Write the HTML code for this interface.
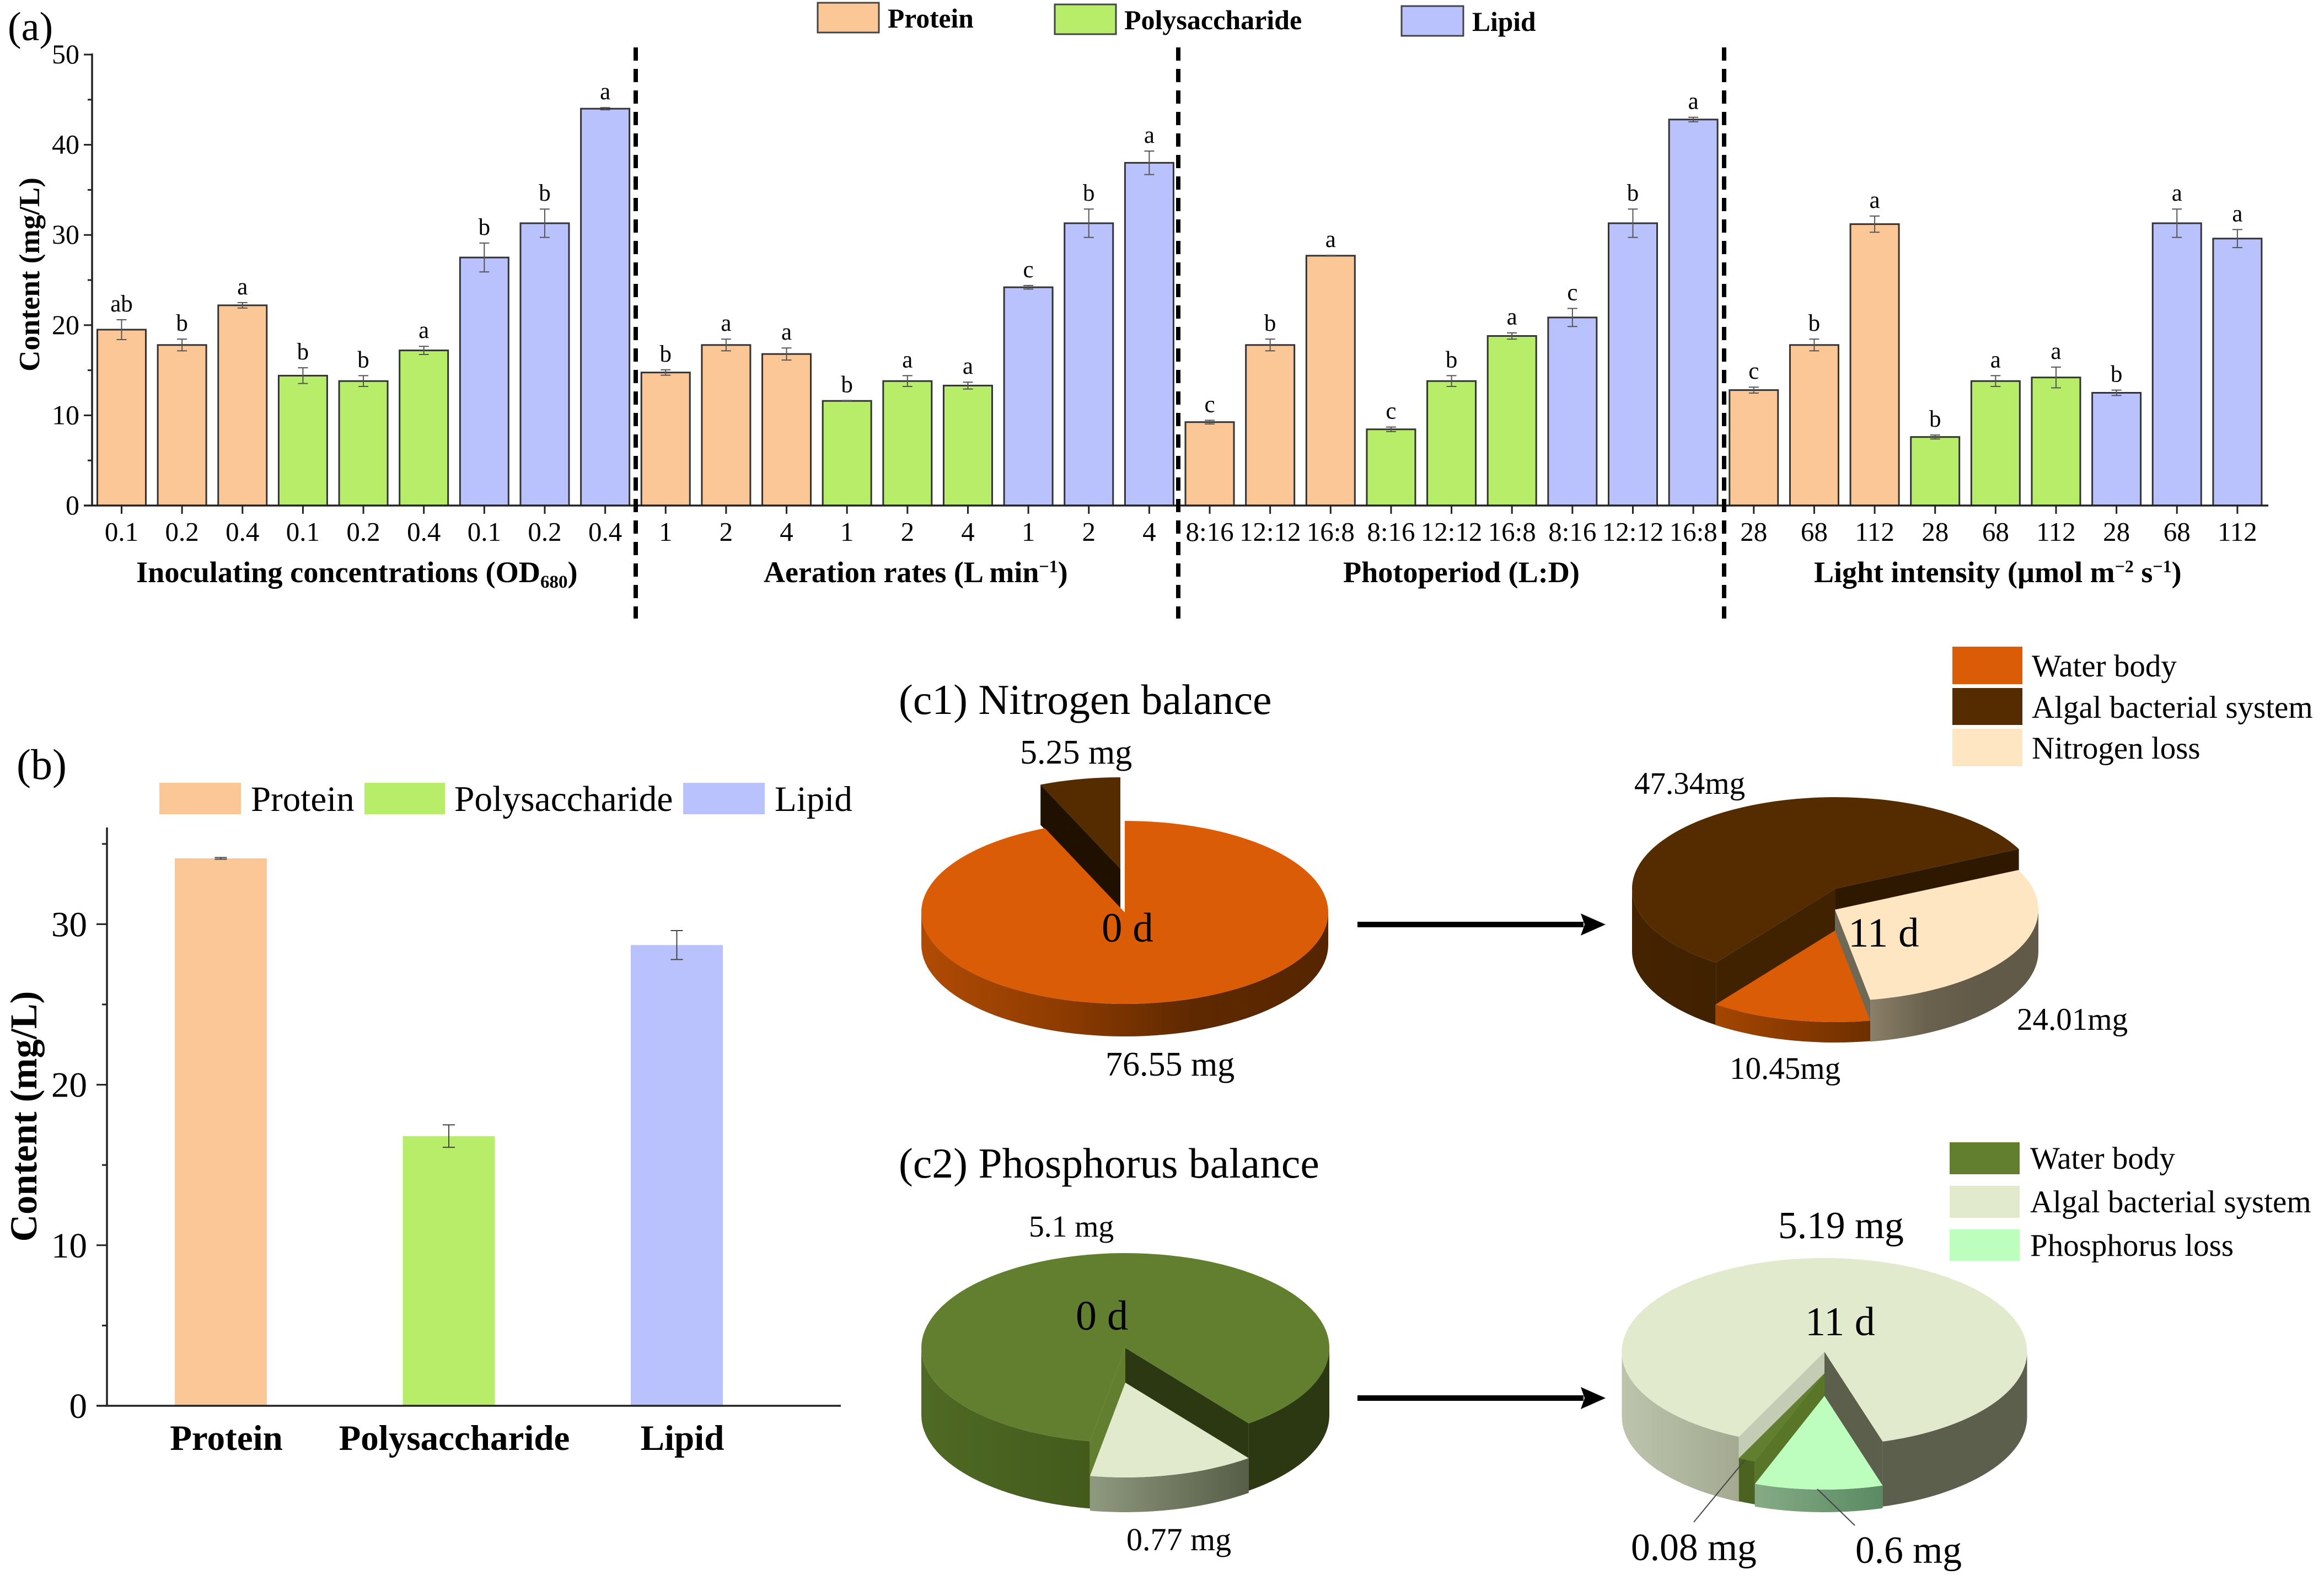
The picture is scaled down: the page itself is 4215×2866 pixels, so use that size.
<!DOCTYPE html>
<html lang="en">
<head>
<meta charset="utf-8">
<title>Content and nutrient balance figure</title>
<style>
html,body{margin:0;padding:0;background:#fff;}
svg{display:block;}
text{font-family:"Liberation Serif","Times New Roman",serif;fill:#000;}
.b{font-weight:bold;}
</style>
</head>
<body>
<svg id="figure" xmlns="http://www.w3.org/2000/svg" width="4215" height="2866" viewBox="0 0 4215 2866">
<defs id="defs"></defs>
<rect x="0" y="0" width="4215" height="2866" fill="#fff"/>

<text x="14" y="73" font-size="74">(a)</text>
<g>
  <rect x="1483" y="5" width="111" height="54" fill="#FCC797" stroke="#444" stroke-width="3"/>
  <text class="b" x="1610" y="50" font-size="49.5">Protein</text>
  <rect x="1913" y="8" width="111" height="54" fill="#B8ED6A" stroke="#444" stroke-width="3"/>
  <text class="b" x="2039" y="53" font-size="50">Polysaccharide</text>
  <rect x="2542" y="11" width="112" height="54" fill="#B9C2FD" stroke="#444" stroke-width="3"/>
  <text class="b" x="2670" y="56" font-size="49.5">Lipid</text>
</g>
<g id="chart-a"></g>
<text class="b" font-size="53" text-anchor="middle" transform="translate(71 498) rotate(-90)">Content (mg/L)</text>
<text class="b" x="247" y="1056" font-size="54.3">Inoculating concentrations (OD<tspan dy="10" font-size="33">680</tspan><tspan dy="-10">)</tspan></text>
<text class="b" x="1385" y="1056" font-size="54">Aeration rates (L min<tspan dy="-18" font-size="32">−1</tspan><tspan dy="18">)</tspan></text>
<text class="b" x="2436" y="1056" font-size="54.2">Photoperiod (L:D)</text>
<text class="b" x="3290" y="1056" font-size="54">Light intensity (µmol m<tspan dy="-18" font-size="32">−2</tspan><tspan dy="18"> s</tspan><tspan dy="-18" font-size="32">−1</tspan><tspan dy="18">)</tspan></text>
<g stroke="#000" stroke-width="8" stroke-dasharray="24 15">
  <line x1="1153" y1="86" x2="1153" y2="1122"/>
  <line x1="2137" y1="86" x2="2137" y2="1122"/>
  <line x1="3127" y1="86" x2="3127" y2="1122"/>
</g>

<text x="30" y="1413" font-size="78">(b)</text>
<g>
  <rect x="289" y="1420" width="148" height="57" fill="#FCC797"/>
  <text x="455" y="1471" font-size="65">Protein</text>
  <rect x="661" y="1420" width="146" height="57" fill="#B8ED6A"/>
  <text x="824" y="1471" font-size="65.5">Polysaccharide</text>
  <rect x="1239" y="1420" width="148" height="57" fill="#B9C2FD"/>
  <text x="1405" y="1471" font-size="65">Lipid</text>
</g>
<g id="chart-b"></g>
<text class="b" font-size="68.5" text-anchor="middle" transform="translate(66 2025) rotate(-90)">Content (mg/L)</text>

<text x="1630" y="1295" font-size="77.6">(c1) Nitrogen balance</text>
<g>
  <rect x="3541" y="1173" width="127" height="68" fill="#DB5C06"/>
  <text x="3685" y="1227" font-size="57">Water body</text>
  <rect x="3541" y="1248" width="127" height="67" fill="#552B00"/>
  <text x="3685" y="1302" font-size="57">Algal bacterial system</text>
  <rect x="3541" y="1322" width="127" height="68" fill="#FFE6C3"/>
  <text x="3685" y="1376" font-size="57">Nitrogen loss</text>
</g>
<g id="pies"></g>
<text x="1850" y="1385" font-size="62">5.25 mg</text>
<text x="2005" y="1951" font-size="62">76.55 mg</text>
<text x="1998" y="1708" font-size="75">0 d</text>
<text x="2964" y="1440" font-size="57">47.34mg</text>
<text x="3658" y="1868" font-size="57">24.01mg</text>
<text x="3137" y="1957" font-size="57">10.45mg</text>
<text x="3352" y="1717" font-size="75">11 d</text>
<g fill="#000">
  <rect x="2462" y="1672" width="410" height="10"/>
  <polygon points="2912,1677 2867,1657 2874,1677 2867,1697"/>
</g>

<text x="1630" y="2136" font-size="77.6">(c2) Phosphorus balance</text>
<g>
  <rect x="3536" y="2072" width="127" height="58" fill="#627F30"/>
  <text x="3682" y="2120" font-size="57">Water body</text>
  <rect x="3536" y="2151" width="127" height="58" fill="#E1EACD"/>
  <text x="3682" y="2199" font-size="57">Algal bacterial system</text>
  <rect x="3536" y="2230" width="127" height="57" fill="#BDFDBE"/>
  <text x="3682" y="2278" font-size="57">Phosphorus loss</text>
</g>
<text x="1866" y="2243" font-size="55.5">5.1 mg</text>
<text x="2043" y="2812" font-size="58">0.77 mg</text>
<text x="1951" y="2412" font-size="76">0 d</text>
<text x="3225" y="2246" font-size="69.5">5.19 mg</text>
<text x="2958" y="2830" font-size="69.5">0.08 mg</text>
<text x="3365" y="2835" font-size="69.5">0.6 mg</text>
<text x="3274" y="2422" font-size="74">11 d</text>
<g fill="#000">
  <rect x="2462" y="2531" width="410" height="10"/>
  <polygon points="2912,2536 2867,2516 2874,2536 2867,2556"/>
</g>
<line x1="3165" y1="2648" x2="3072" y2="2761" stroke="#444" stroke-width="2"/>
<line x1="3296" y1="2701" x2="3364" y2="2767" stroke="#444" stroke-width="2"/>
</svg>

<script>
// ---- Panel (a) data ----
const tickLabelsA = ['0.1','0.2','0.4','0.1','0.2','0.4','0.1','0.2','0.4',
  '1','2','4','1','2','4','1','2','4',
  '8:16','12:12','16:8','8:16','12:12','16:8','8:16','12:12','16:8',
  '28','68','112','28','68','112','28','68','112'];
const barValuesA = [19.5,17.8,22.2,14.4,13.8,17.2,27.5,31.3,44.0,
  14.75,17.8,16.8,11.6,13.8,13.3,24.2,31.3,38.0,
  9.25,17.8,27.7,8.45,13.8,18.8,20.85,31.3,42.8,
  12.8,17.8,31.2,7.6,13.8,14.2,12.5,31.3,29.6];
const barErrorsA = [1.1,0.65,0.3,0.87,0.6,0.45,1.6,1.57,0.12,
  0.3,0.65,0.67,0.05,0.6,0.38,0.2,1.57,1.3,
  0.2,0.65,0.05,0.25,0.6,0.35,1.0,1.57,0.25,
  0.33,0.65,0.9,0.22,0.6,1.15,0.3,1.57,1.0];
const barLettersA = ['ab','b','a','b','b','a','b','b','a',
  'b','a','a','b','a','a','c','b','a',
  'c','b','a','c','b','a','c','b','a',
  'c','b','a','b','a','a','b','a','a'];
const yTicksA = [0,10,20,30,40,50];
const yMinorTicksA = [5,15,25,35,45];

// ---- Panel (b) data ----
const categoriesB = ['Protein','Polysaccharide','Lipid'];
const barValuesB = [34.1,16.8,28.7];
const barErrorsB = [0.05,0.7,0.9];
const yTicksB = [0,10,20,30];
const yMinorTicksB = [5,15,25,35];

// ---- Panel (c) data ----
const nitrogenDay0 = [5.25,76.55];
const nitrogenDay11 = [47.34,24.01,10.45];
const phosphorusDay0 = [5.1,0.77];
const phosphorusDay11 = [5.19,0.6,0.08];

const NS = 'http://www.w3.org/2000/svg';
const seriesColors = ['#FCC797','#B8ED6A','#B9C2FD'];
const seriesNames = ['protein','polysaccharide','lipid'];

function make(tag, attrs, parent, content) {
  const el = document.createElementNS(NS, tag);
  for (const k in attrs) el.setAttribute(k, attrs[k]);
  if (content !== undefined) el.textContent = content;
  parent.appendChild(el);
  return el;
}

// ---- Panel (a) ----
const xA = i => 220.5 + i * 109.64;
const yA = v => 917 - v * 16.36;
const chartA = document.getElementById('chart-a');

barValuesA.forEach((v, i) => {
  const s = Math.floor((i % 9) / 3);
  const bar = make('rect', {x: xA(i) - 44, y: yA(v), width: 88, height: yA(0) - yA(v), fill: seriesColors[s], stroke: '#333', 'stroke-width': 3}, chartA);
  
  
  const e = barErrorsA[i];
  const err = make('path', {d: 'M' + (xA(i) - 9) + ' ' + yA(v + e) + 'H' + (xA(i) + 9) + 'M' + xA(i) + ' ' + yA(v + e) + 'V' + yA(v - e) + 'M' + (xA(i) - 9) + ' ' + yA(v - e) + 'H' + (xA(i) + 9), stroke: '#555', 'stroke-width': 2, fill: 'none'}, chartA);
  
  
  const letter = make('text', {x: xA(i), y: yA(v + e) - 15, 'font-size': 43, 'text-anchor': 'middle'}, chartA, barLettersA[i]);
  
  
  const tick = make('line', {x1: xA(i), x2: xA(i), y1: yA(0), y2: yA(0) + 15, stroke: '#222', 'stroke-width': 3}, chartA);
  
  
  const label = make('text', {x: xA(i), y: 981, 'font-size': 49, 'text-anchor': 'middle'}, chartA, tickLabelsA[i]);
  
  
});
const axisXA = make('line', {x1: 152, x2: 4114, y1: yA(0), y2: yA(0), stroke: '#222', 'stroke-width': 3.5}, chartA);


const axisYA = make('line', {x1: 167, x2: 167, y1: yA(50) - 2, y2: yA(0), stroke: '#222', 'stroke-width': 3.5}, chartA);


yTicksA.forEach(t => {
  const tick = make('line', {x1: 152, x2: 167, y1: yA(t), y2: yA(t), stroke: '#222', 'stroke-width': 3}, chartA);
  
  
  const label = make('text', {x: 144, y: yA(t) + 16, 'font-size': 50, 'text-anchor': 'end'}, chartA, String(t));
  
  
});
yMinorTicksA.forEach(t => {
  const tick = make('line', {x1: 159, x2: 167, y1: yA(t), y2: yA(t), stroke: '#222', 'stroke-width': 3}, chartA);
  
  
});

// ---- Panel (b) ----
const xB = i => 400.5 + i * 413.5;
const yB = v => 2550 - v * 29.12;
const chartB = document.getElementById('chart-b');
barValuesB.forEach((v, i) => {
  const bar = make('rect', {x: xB(i) - 83.5, y: yB(v), width: 167, height: yB(0) - yB(v), fill: seriesColors[i]}, chartB);
  
  
  const e = barErrorsB[i];
  const err = make('path', {d: 'M' + (xB(i) - 11) + ' ' + yB(v + e) + 'H' + (xB(i) + 11) + 'M' + xB(i) + ' ' + yB(v + e) + 'V' + yB(v - e) + 'M' + (xB(i) - 11) + ' ' + yB(v - e) + 'H' + (xB(i) + 11), stroke: '#444', 'stroke-width': 2, fill: 'none'}, chartB);
  
  
  const label = make('text', {x: xB(i) + 10, y: 2630, 'font-size': 65, 'font-weight': 'bold', 'text-anchor': 'middle'}, chartB, categoriesB[i]);
  
  
});
const axisXB = make('line', {x1: 175, x2: 1525, y1: yB(0), y2: yB(0), stroke: '#222', 'stroke-width': 3.5}, chartB);


const axisYB = make('line', {x1: 194, x2: 194, y1: 1501, y2: yB(0), stroke: '#222', 'stroke-width': 3.5}, chartB);


yTicksB.forEach(t => {
  const tick = make('line', {x1: 175, x2: 194, y1: yB(t), y2: yB(t), stroke: '#222', 'stroke-width': 3}, chartB);
  
  
  const label = make('text', {x: 158, y: yB(t) + 22, 'font-size': 65, 'text-anchor': 'end'}, chartB, String(t));
  
  
});
yMinorTicksB.forEach(t => {
  const tick = make('line', {x1: 185, x2: 194, y1: yB(t), y2: yB(t), stroke: '#222', 'stroke-width': 3}, chartB);
  
  
});

// ---- Panel (c): 3D pies, slice angles come from the value arrays ----
const defs = document.getElementById('defs');
const piesGroup = document.getElementById('pies');
let gradientCount = 0;

function paint(fill) {
  if (typeof fill === 'string') return fill;
  gradientCount += 1;
  const id = 'pie-gradient-' + gradientCount;
  const grad = make('linearGradient', {id: id, x1: 0, x2: 1, y1: 0, y2: 0}, defs);
  fill.forEach((c, i) => make('stop', {offset: i / (fill.length - 1), 'stop-color': c}, grad));
  return 'url(#' + id + ')';
}

function visibleArcs(a0, a1) {
  const arcs = [];
  [-360, 0, 360].forEach(k => {
    const s = Math.max(a0, k);
    const e = Math.min(a1, k + 180);
    if (e > s) arcs.push([s, e]);
  });
  return arcs;
}

function drawPie(name, values, startAngle, rx, ry, styles, drawOrder) {
  const total = values.reduce((a, b) => a + b, 0);
  const group = make('g', {}, piesGroup);
  
  
  let angle = startAngle;
  const ranges = values.map(v => {
    const r = [angle, angle + 360 * v / total];
    angle = r[1];
    return r;
  });
  drawOrder.forEach(j => {
    const st = styles[j];
    const a0 = ranges[j][0];
    const a1 = ranges[j][1];
    const pt = (a, drop) => (st.cx + rx * Math.cos(a * Math.PI / 180)).toFixed(1) + ' ' + (st.cy + (drop || 0) + ry * Math.sin(a * Math.PI / 180)).toFixed(1);
    visibleArcs(a0, a1).forEach((arc, k) => {
      const wall = make('path', {d: 'M' + pt(arc[0]) + 'A' + rx + ' ' + ry + ' 0 0 1 ' + pt(arc[1]) + 'L' + pt(arc[1], st.depth) + 'A' + rx + ' ' + ry + ' 0 0 0 ' + pt(arc[0], st.depth) + 'Z', fill: paint(st.outer[k])}, group);
      
      
    });
    [[a0, st.wallStart], [a1, st.wallEnd]].forEach((w, k) => {
      if (!w[1]) return;
      const cut = make('path', {d: 'M' + st.cx + ' ' + st.cy + 'L' + pt(w[0]) + 'L' + pt(w[0], st.depth) + 'L' + st.cx + ' ' + (st.cy + st.depth) + 'Z', fill: w[1]}, group);
      
      
    });
    const large = a1 - a0 > 180 ? 1 : 0;
    const top = make('path', {d: 'M' + st.cx + ' ' + st.cy + 'L' + pt(a0) + 'A' + rx + ' ' + ry + ' 0 ' + large + ' 1 ' + pt(a1) + 'Z', fill: st.top}, group);
    
    
  });
}

drawPie('nitrogen-day0-pie', nitrogenDay0, -113.1, 369, 166, [
  {cx: 2032, cy: 1576, depth: 73, top: '#552B00', wallStart: '#201000', wallEnd: null, outer: []},
  {cx: 2040, cy: 1655, depth: 59, top: '#DB5C06', wallStart: null, wallEnd: null, outer: [['#B04B04','#8F3C01','#5F2900','#552500']]}
], [0, 1]);

drawPie('nitrogen-day11-pie', nitrogenDay11, 126, 369, 166, [
  {cx: 3329, cy: 1612, depth: 113, top: '#552B00', wallStart: '#402100', wallEnd: '#2F1800', outer: [['#452300','#402100']]},
  {cx: 3328, cy: 1650, depth: 76, top: '#FFE6C3', wallStart: null, wallEnd: '#6E6856', outer: [['#8A8069','#6A614E','#625A48','#625A48']]},
  {cx: 3328, cy: 1688, depth: 37, top: '#DB5C06', wallStart: null, wallEnd: null, outer: [['#A34600','#8A3A00','#6E2F00']]}
], [0, 1, 2]);

drawPie('phosphorus-day0-pie', phosphorusDay0, 100, 370, 172, [
  {cx: 2041, cy: 2445, depth: 122, top: '#627F30', wallStart: '#627F30', wallEnd: '#2B3812', outer: [['#4F6A24','#435A1C'], '#2B3812']},
  {cx: 2041, cy: 2508, depth: 63, top: '#E1EACD', wallStart: null, wallEnd: null, outer: [['#8F9A80','#727A62','#575E48']]}
], [0, 1]);

drawPie('phosphorus-day11-pie', phosphorusDay11, 115, 367.5, 170, [
  {cx: 3309, cy: 2452, depth: 118, top: '#E1EACD', wallStart: '#C5CCB5', wallEnd: '#5B5F4C', outer: [['#BDC4AD','#A3AA91'], '#5B5F4C']},
  {cx: 3309, cy: 2532, depth: 41, top: '#BDFDBE', wallStart: null, wallEnd: null, outer: [['#85AB85','#5A8A63']]},
  {cx: 3309, cy: 2491, depth: 78, top: '#627F30', wallStart: '#587528', wallEnd: null, outer: ['#4A6321']}
], [0, 2, 1]);
</script>
</body>
</html>
